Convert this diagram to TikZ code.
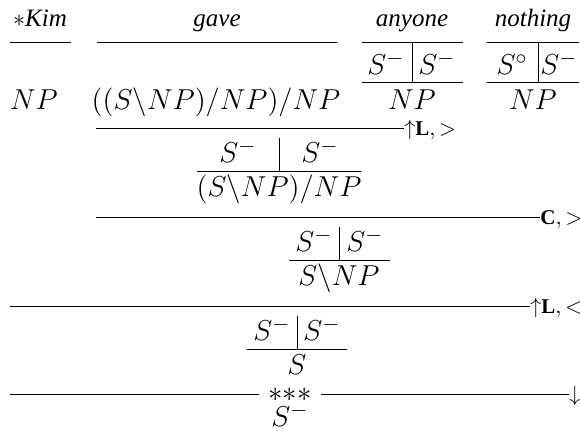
\documentclass[tikz,border=0pt]{standalone}
\usepackage{fontspec}
\setmainfont{Liberation Serif}
\usetikzlibrary{positioning, calc}

\begin{document}
\begin{tikzpicture}[
  x=0.5pt, y=-0.5pt,
  font=\fontsize{15}{18}\selectfont,
  word/.style={anchor=base, inner sep=0pt, font=\fontsize{12.5}{15}\selectfont\itshape},
  cat/.style={anchor=base, inner sep=0pt},
  rule/.style={line width=0.5pt},
  bar/.style={line width=0.5pt},
  rulelabel/.style={anchor=base west, inner sep=0pt, font=\fontsize{10.5}{12}\selectfont}
]
\useasboundingbox (0,0) rectangle (580,431);
% lexical entries
\node (kim) [word] at (40,27) {$\ast$Kim};
\node (gave) [word] at (217,27) {gave};
\node (anyone) [word] at (412,27) {anyone};
\node (nothing) [word] at (533,27) {nothing};
\draw [rule] (10,43) -- (71,43);
\draw [rule] (97,43) -- (337,43);
\draw [rule] (362,43) -- (463,43);
\draw [rule] (487,43) -- (579,43);
\node (kimcat) [cat] at (34,110) {$NP$};
\node (gavecat) [cat] at (216,110) {$((S\backslash NP)/NP)/NP$};
\node (anyl) [cat] at (386,75) {$S^{-}$};
\node (anyr) [cat] at (437,75) {$S^{-}$};
\draw [bar] (412,43) -- (412,83);
\draw [rule] (362,83) -- (463,83);
\node (anycat) [cat] at (412,110) {$NP$};
\node (nothl) [cat] at (512,75) {$S^{\circ}$};
\node (nothr) [cat] at (559,75) {$S^{-}$};
\draw [bar] (538,43) -- (538,83);
\draw [rule] (487,83) -- (579,83);
\node (nothcat) [cat] at (533,110) {$NP$};
% lift and apply
\coordinate (r2a) at (96,129);
\coordinate (r2b) at (404,129);
\draw [rule] (r2a) -- (r2b);
\node (lab2) [rulelabel] at ($(r2b)+(0,7)$) {${\uparrow}\mathbf{L},>$};
\node (vpl) [cat] at (238,163) {$S^{-}$};
\node (vpr) [cat] at (320,163) {$S^{-}$};
\draw [bar] (279,138) -- (279,172);
\draw [rule] (197,172) -- (361,172);
\node (vpcat) [cat] at (279,197) {$(S\backslash NP)/NP$};
% composition
\coordinate (r3a) at (96,218);
\coordinate (r3b) at (540,218);
\draw [rule] (r3a) -- (r3b);
\node (lab3) [rulelabel] at ($(r3b)+(0,7)$) {$\mathbf{C},>$};
\node (ivl) [cat] at (314,252) {$S^{-}$};
\node (ivr) [cat] at (365,252) {$S^{-}$};
\draw [bar] (339,227) -- (339,261);
\draw [rule] (289,261) -- (390,261);
\node (ivcat) [cat] at (339,286) {$S\backslash NP$};
% lift subject
\coordinate (r4a) at (10,307);
\coordinate (r4b) at (530,307);
\draw [rule] (r4a) -- (r4b);
\node (lab4) [rulelabel] at ($(r4b)+(0,7)$) {${\uparrow}\mathbf{L},<$};
\node (sl) [cat] at (272,341) {$S^{-}$};
\node (sr) [cat] at (322,341) {$S^{-}$};
\draw [bar] (297,316) -- (297,350);
\draw [rule] (247,350) -- (347,350);
\node (scat) [cat] at (297,375) {$S$};
% lowering fails
\coordinate (r5a) at (10,395);
\coordinate (r5b) at (569,395);
\node (stars) [inner ysep=0pt, inner xsep=4.5pt] at (290,395) {${\ast}{\ast}{\ast}$};
\draw [rule] (r5a) -- (stars.west);
\draw [rule] (stars.east) -- (r5b);
\node (lab5) [rulelabel] at ($(r5b)+(0,7)$) {${\downarrow}$};
\node (result) [cat] at (290,427) {$S^{-}$};
\end{tikzpicture}
\end{document}
